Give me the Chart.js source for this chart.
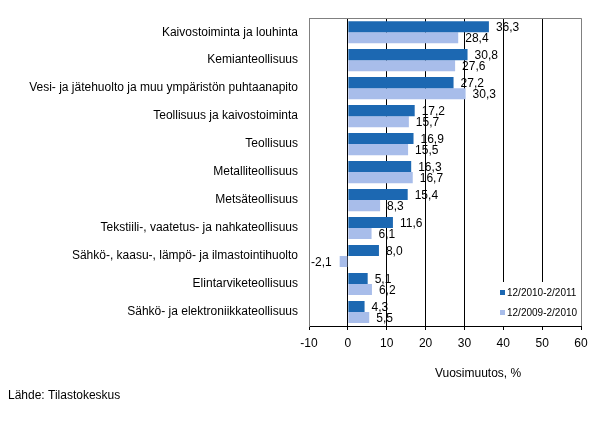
<!DOCTYPE html>
<html>
<head>
    <title>Vuosimuutos toimialoittain</title>
    <script src="https://cdn.jsdelivr.net/npm/chart.js@4/dist/chart.umd.min.js"></script>
    <style>
        body {
            margin: 0;
            background: white;
        }
        #wrap {
            width: 598px;
            height: 421px;
            position: relative;
        }
    </style>
</head>
<body>
    <div id="wrap">
        <canvas id="chart" width="598" height="421"></canvas>
    </div>

    <script>
        // Data
        const categories = [
            'Kaivostoiminta ja louhinta',
            'Kemianteollisuus',
            'Vesi- ja jätehuolto ja muu ympäristön puhtaanapito',
            'Teollisuus ja kaivostoiminta',
            'Teollisuus',
            'Metalliteollisuus',
            'Metsäteollisuus',
            'Tekstiili-, vaatetus- ja nahkateollisuus',
            'Sähkö-, kaasu-, lämpö- ja ilmastointihuolto',
            'Elintarviketeollisuus',
            'Sähkö- ja elektroniikkateollisuus'
        ];
        const seriesNames = ['12/2010-2/2011', '12/2009-2/2010'];
        const current = [36.3, 30.8, 27.2, 17.2, 16.9, 16.3, 15.4, 11.6, 8.0, 5.1, 4.3];
        const previous = [28.4, 27.6, 30.3, 15.7, 15.5, 16.7, 8.3, 6.1, -2.1, 6.2, 5.5];
        const xTicks = [-10, 0, 10, 20, 30, 40, 50, 60];
        const axisTitle = 'Vuosimuutos, %';
        const sourceText = 'Lähde: Tilastokeskus';

        const colors = ['#1c68b2', '#a8bdea'];
        const font = 'Arial, "Liberation Sans", sans-serif';

        // value labels, legend box, titles and top border
        const extras = {
            id: 'extras',
            beforeDatasetsDraw(chart) {
                const c = chart.ctx;
                const a = chart.chartArea;
                c.save();
                c.strokeStyle = '#808080';
                c.lineWidth = 1;
                c.beginPath();
                c.moveTo(a.left, Math.round(a.top) + 0.5);
                c.lineTo(a.right, Math.round(a.top) + 0.5);
                c.stroke();
                c.restore();
            },
            afterDatasetsDraw(chart) {
                const c = chart.ctx;
                const a = chart.chartArea;
                c.save();
                c.font = '12px ' + font;
                c.fillStyle = '#000';
                c.textBaseline = 'middle';
                chart.data.datasets.forEach((ds, i) => {
                    chart.getDatasetMeta(i).data.forEach((bar, j) => {
                        const v = ds.data[j];
                        const txt = v.toFixed(1).replace('.', ',');
                        if (v >= 0) {
                            c.textAlign = 'left';
                            c.fillText(txt, bar.x + 7, bar.y + 1);
                        } else {
                            c.textAlign = 'right';
                            c.fillText(txt, bar.x - 8, bar.y + 1);
                        }
                    });
                });

                // legend inside the plot, bottom right
                const lx = a.right - 85;
                const ly = a.bottom - 44;
                c.fillStyle = '#fff';
                c.fillRect(lx, ly, 84, 44);
                c.font = '10px ' + font;
                c.textAlign = 'left';
                seriesNames.forEach((name, i) => {
                    const y = ly + 11 + i * 20;
                    c.fillStyle = colors[i];
                    c.fillRect(lx + 4, y - 3, 5, 5);
                    c.fillStyle = '#000';
                    c.fillText(name, lx + 11, y);
                });

                // axis title and source
                c.font = '12px ' + font;
                c.textAlign = 'center';
                c.fillText(axisTitle, chart.scales.x.getPixelForValue(33.5), a.bottom + 48);
                c.textAlign = 'left';
                c.fillText(sourceText, 8, 396);
                c.restore();
            }
        };

        new Chart(document.getElementById('chart'), {
            type: 'bar',
            data: {
                labels: categories,
                datasets: [
                    {
                        label: seriesNames[0],
                        data: current,
                        backgroundColor: colors[0],
                        categoryPercentage: 0.79,
                        barPercentage: 1.0
                    },
                    {
                        label: seriesNames[1],
                        data: previous,
                        backgroundColor: colors[1],
                        categoryPercentage: 0.79,
                        barPercentage: 1.0
                    }
                ]
            },
            options: {
                indexAxis: 'y',
                responsive: false,
                animation: false,
                devicePixelRatio: 1,
                layout: {
                    padding: { top: 18, right: 17, left: 0, bottom: 0 }
                },
                plugins: {
                    legend: { display: false },
                    tooltip: { enabled: false }
                },
                scales: {
                    x: {
                        min: -10,
                        max: 60,
                        afterBuildTicks(scale) {
                            scale.ticks = xTicks.map(v => ({ value: v }));
                        },
                        afterFit(scale) {
                            scale.height = 95;
                        },
                        grid: {
                            color: ctx => (ctx.tick && (ctx.tick.value === -10 || ctx.tick.value === 60)) ? '#808080' : '#000',
                            tickColor: '#000',
                            tickLength: 4,
                            lineWidth: 1
                        },
                        border: { color: '#000' },
                        ticks: {
                            color: '#000',
                            font: { family: font, size: 12 },
                            padding: 6,
                            maxRotation: 0
                        }
                    },
                    y: {
                        afterFit(scale) {
                            scale.width = 309;
                        },
                        grid: { display: false, drawTicks: false },
                        border: { color: '#808080' },
                        ticks: {
                            color: '#000',
                            font: { family: font, size: 12 },
                            padding: 11
                        }
                    }
                }
            },
            plugins: [extras]
        });
    </script>
</body>
</html>
